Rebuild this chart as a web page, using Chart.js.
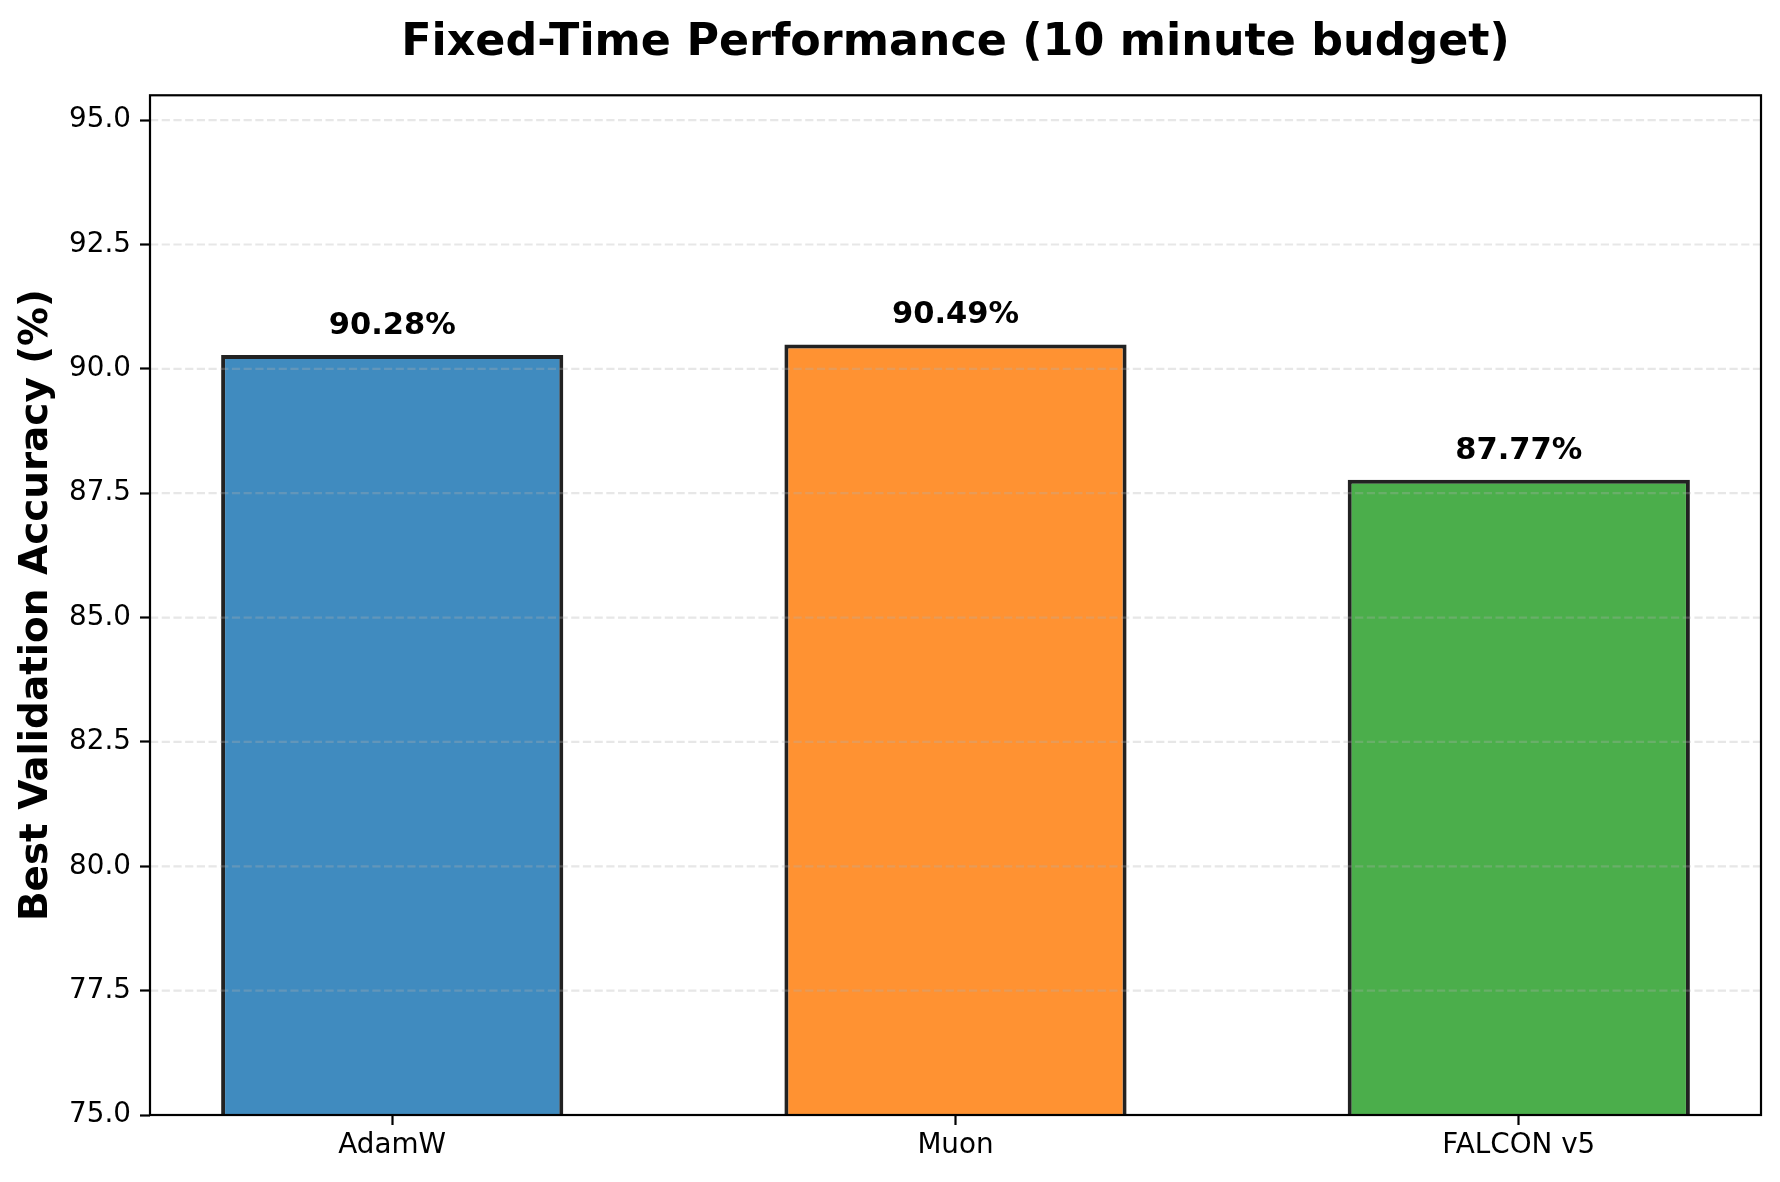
<!DOCTYPE html>
<html>
<head>
<meta charset="utf-8">
<script src="https://cdn.jsdelivr.net/npm/chart.js@4.4.1/dist/chart.umd.min.js"></script>
<style>
  html, body { margin: 0; padding: 0; background: #ffffff; }
  #wrap { width: 1780px; height: 1182px; }
</style>
</head>
<body>
<div id="wrap"><canvas id="c" width="1780" height="1182"></canvas></div>
<script>
const categories = ["AdamW", "Muon", "FALCON v5"];
const accuracy = [90.28, 90.49, 87.77];
const yTicks = [75.0, 77.5, 80.0, 82.5, 85.0, 87.5, 90.0, 92.5, 95.0];
const barColors = ["rgba(31,119,180,0.85)", "rgba(255,127,14,0.85)", "rgba(44,160,44,0.85)"];

const FONT = "'DejaVu Sans', 'Liberation Sans', sans-serif";

const overlayPlugin = {
  id: 'overlay',
  afterDatasetsDraw(chart) {
    const ctx = chart.ctx;
    const area = chart.chartArea;
    const y = chart.scales.y;
    const x = chart.scales.x;
    // dashed y grid drawn over bars (as matplotlib does)
    ctx.save();
    ctx.strokeStyle = 'rgba(176,176,176,0.3)';
    ctx.lineWidth = 2.2;
    ctx.setLineDash([8.2, 3.5]);
    y.ticks.forEach(t => {
      const py = y.getPixelForValue(t.value);
      ctx.beginPath();
      ctx.moveTo(area.left, py);
      ctx.lineTo(area.right, py);
      ctx.stroke();
    });
    ctx.restore();
    // value labels
    ctx.save();
    ctx.font = "bold 30.5px " + FONT;
    ctx.fillStyle = '#000';
    ctx.textAlign = 'center';
    ctx.textBaseline = 'alphabetic';
    accuracy.forEach((v, i) => {
      const px = x.getPixelForValue(i);
      const py = y.getPixelForValue(v);
      ctx.fillText(v.toFixed(2) + '%', px, py - 21);
    });
    ctx.restore();
  },
  afterDraw(chart) {
    const ctx = chart.ctx;
    const a = chart.chartArea;
    ctx.save();
    ctx.strokeStyle = '#000';
    ctx.lineWidth = 2.2;
    ctx.setLineDash([]);
    ctx.strokeRect(a.left, a.top, a.right - a.left, a.bottom - a.top);
    ctx.restore();
  }
};

new Chart(document.getElementById('c'), {
  type: 'bar',
  data: {
    datasets: [{
      data: accuracy.map((v, i) => ({ x: i, y: v })),
      backgroundColor: barColors,
      borderColor: '#222222',
      borderWidth: 4,
      borderSkipped: false,
      barPercentage: 0.6075,
      categoryPercentage: 1.0
    }]
  },
  options: {
    responsive: false,
    animation: false,
    devicePixelRatio: 1,
    layout: { padding: { left: 0, right: 19, top: 0, bottom: 0 } },
    plugins: {
      legend: { display: false },
      tooltip: { enabled: false },
      title: {
        display: true,
        text: 'Fixed-Time Performance (10 minute budget)',
        fullSize: false,
        color: '#000',
        font: { family: FONT, size: 44.4, weight: 'bold', lineHeight: 1.2 },
        padding: { top: 17, bottom: 25 }
      }
    },
    scales: {
      x: {
        type: 'linear',
        min: -0.43,
        max: 2.43,
        offset: false,
        afterBuildTicks: (scale) => { scale.ticks = categories.map((c, i) => ({ value: i })); },
        afterFit: (scale) => { scale.height = 67; },
        ticks: {
          callback: (v) => categories[v],
          color: '#000',
          font: { family: FONT, size: 27.8, lineHeight: 1.2 },
          padding: 4,
          maxRotation: 0,
          autoSkip: false
        },
        grid: {
          display: true,
          offset: false,
          drawOnChartArea: false,
          drawTicks: true,
          tickLength: 10,
          tickWidth: 2.2,
          tickColor: '#000'
        },
        border: { display: false }
      },
      y: {
        type: 'linear',
        min: 75,
        max: 95.5,
        afterBuildTicks: (scale) => { scale.ticks = yTicks.map(v => ({ value: v })); },
        afterFit: (scale) => { scale.width = 150; },
        ticks: {
          callback: (v) => Number(v).toFixed(1),
          color: '#000',
          font: { family: FONT, size: 27.8, lineHeight: 1.2 },
          padding: 9
        },
        grid: {
          display: true,
          drawOnChartArea: false,
          drawTicks: true,
          tickLength: 10,
          tickWidth: 2.2,
          tickColor: '#000'
        },
        border: { display: false },
        title: {
          display: true,
          text: 'Best Validation Accuracy (%)',
          color: '#000',
          font: { family: FONT, size: 38.9, weight: 'bold', lineHeight: 1.2 },
          padding: { top: 14, bottom: 0 }
        }
      }
    }
  },
  plugins: [overlayPlugin]
});
</script>
</body>
</html>
